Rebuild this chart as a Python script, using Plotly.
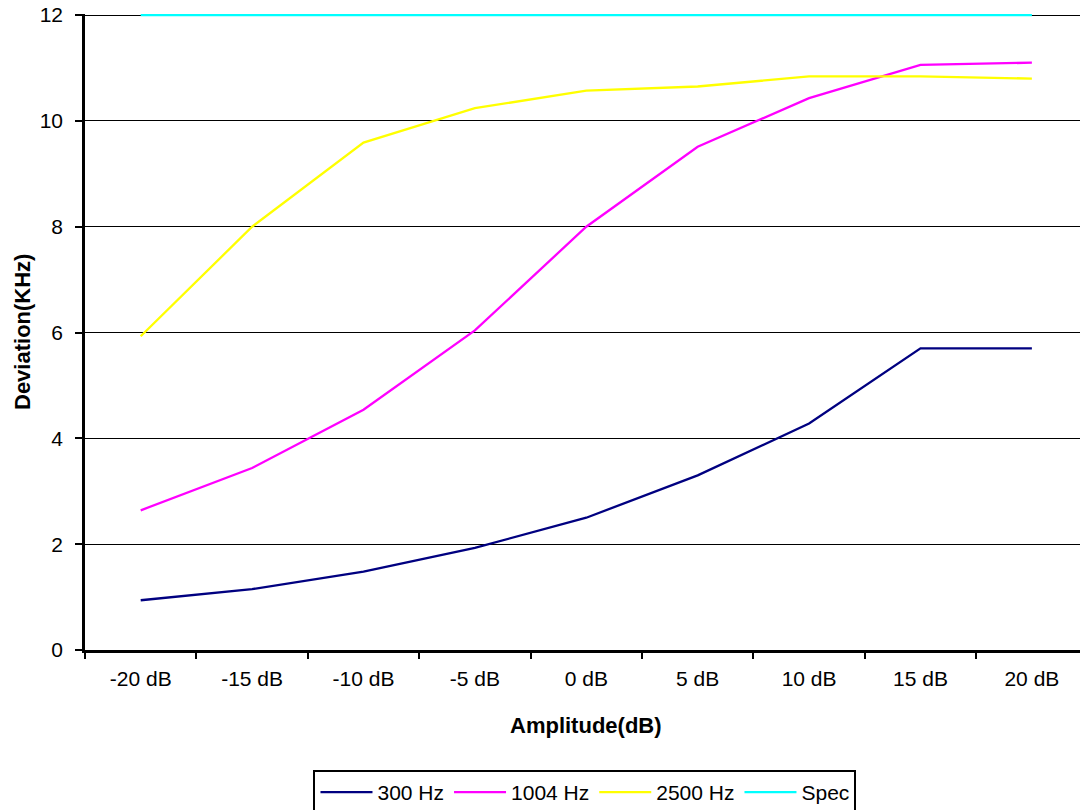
import plotly.graph_objects as go

categories = ["-20 dB", "-15 dB", "-10 dB", "-5 dB", "0 dB", "5 dB", "10 dB", "15 dB", "20 dB"]
hz300 = [0.94, 1.15, 1.48, 1.93, 2.50, 3.30, 4.28, 5.70, 5.70]
hz1004 = [2.64, 3.44, 4.54, 6.04, 8.00, 9.51, 10.43, 11.06, 11.10]
hz2500 = [5.93, 8.00, 9.59, 10.24, 10.57, 10.65, 10.84, 10.84, 10.80]
spec = [12, 12, 12, 12, 12, 12, 12, 12, 12]

series = [
    ("300 Hz", hz300, "#000080"),
    ("1004 Hz", hz1004, "#FF00FF"),
    ("2500 Hz", hz2500, "#FFFF00"),
    ("Spec", spec, "#00FFFF"),
]

FONT = "Liberation Sans, Arial, sans-serif"

fig = go.Figure()
for name, vals, col in series:
    fig.add_trace(go.Scatter(x=categories, y=vals, name=name, mode="lines",
                             line=dict(color=col, width=2.3), cliponaxis=False))

fig.update_layout(
    width=1080, height=810,
    margin=dict(l=85, r=0, t=14, b=160, autoexpand=False),
    paper_bgcolor="white", plot_bgcolor="white",
    font=dict(family=FONT, size=20, color="black"),
    showlegend=True,
    legend=dict(orientation="h", x=0.5025, xanchor="center", y=-0.1887, yanchor="top",
                bordercolor="black", borderwidth=2, itemwidth=52,
                font=dict(size=21, family=FONT, color="black")),
    xaxis=dict(type="category", range=[-0.5, 8.432], showline=True, linecolor="black",
               linewidth=2.5, ticks="outside", tickson="boundaries", ticklen=6,
               tickwidth=2, tickcolor="black", showgrid=False, zeroline=False,
               tickfont=dict(size=21), ticklabelstandoff=8),
    yaxis=dict(range=[0, 12.02], tickvals=[0, 2, 4, 6, 8, 10, 12], showline=True,
               linecolor="black", linewidth=2.5,
               ticks="outside", ticklen=7, tickwidth=2, tickcolor="black",
               showgrid=True, gridcolor="black", gridwidth=1, zeroline=False,
               tickfont=dict(size=21), ticklabelstandoff=8),
    annotations=[
        dict(text="<b>Amplitude(dB)</b>", xref="x", yref="paper", x=4, y=(650 - 725) / 636,
             xanchor="center", yanchor="middle", showarrow=False, font=dict(size=22)),
        dict(text="<b>Deviation(KHz)</b>", xref="paper", yref="paper", x=(22 - 85) / 995,
             y=0.5, xanchor="center", yanchor="middle", textangle=-90, showarrow=False,
             font=dict(size=22)),
    ],
)

fig.write_html("out.html")
